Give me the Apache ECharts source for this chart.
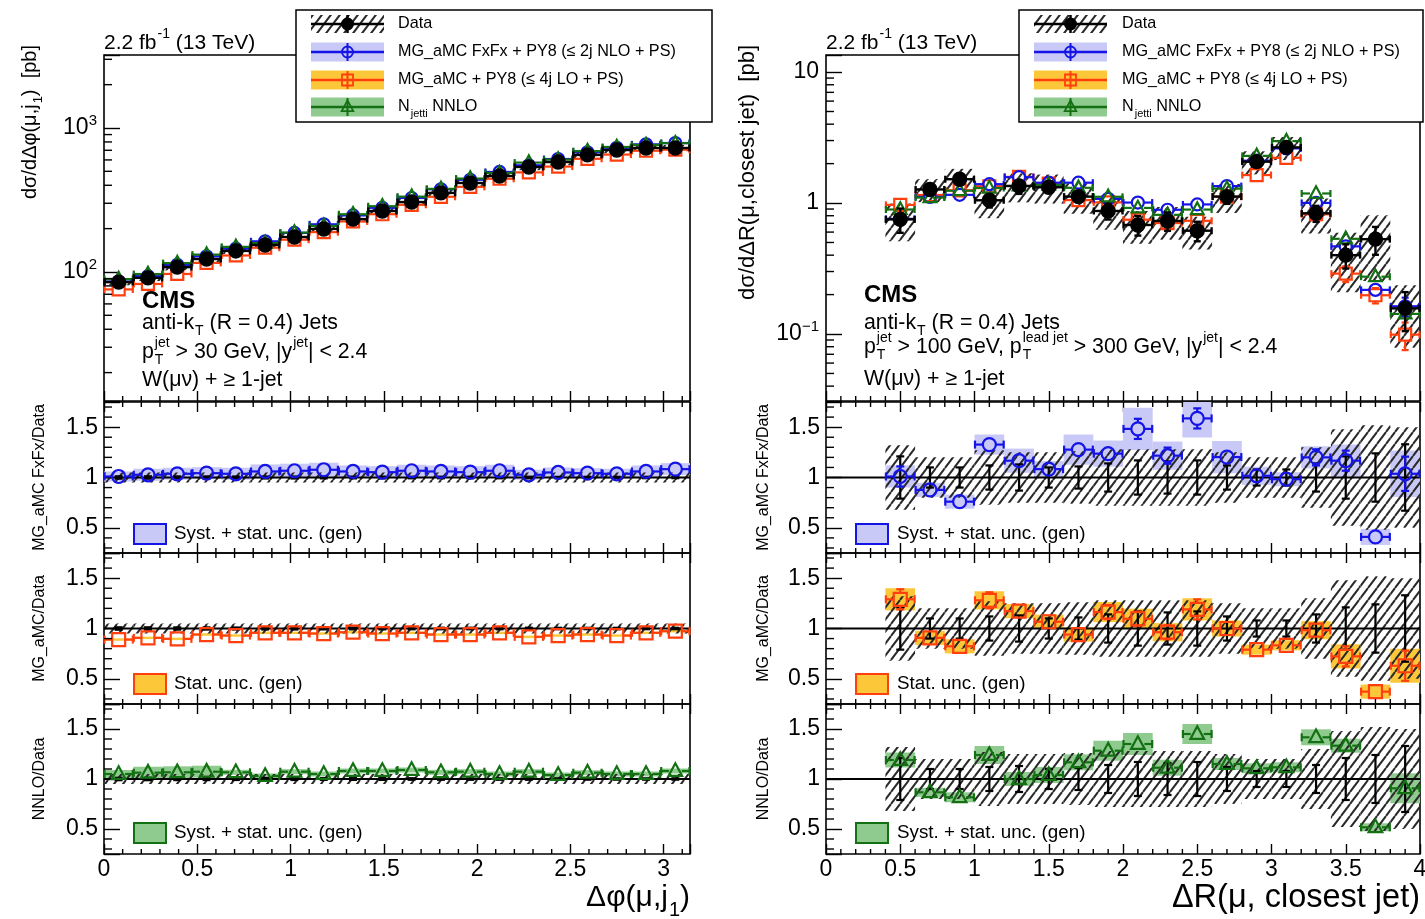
<!DOCTYPE html>
<html>
<head>
<meta charset="utf-8">
<script src="https://cdn.jsdelivr.net/npm/echarts@6/dist/echarts.min.js"></script>
<style>
  html, body { margin: 0; padding: 0; background: #fff; }
  #chart { width: 1425px; height: 919px; }
</style>
</head>
<body>
<div id="chart"></div>
<script>
const FONT = '"Liberation Sans", Arial, Helvetica, sans-serif';

// ---------------- Δφ(μ, j1): 20 equal-width bins on [0, π] ----------------
const dphiNBins = 20;
const dphiEdges = Array.from({ length: dphiNBins + 1 }, (_, i) => (i * Math.PI) / dphiNBins);
const dphiData      = [85, 91, 108, 123, 140, 154, 175, 199, 233, 265, 306, 354, 415, 464, 536, 580, 650, 703, 726, 726];
const dphiDataStat  = [0.012, 0.012, 0.011, 0.011, 0.010, 0.010, 0.010, 0.009, 0.009, 0.009, 0.008, 0.008, 0.008, 0.008, 0.008, 0.007, 0.007, 0.007, 0.007, 0.007];
const dphiDataSyst  = [0.05, 0.05, 0.05, 0.05, 0.05, 0.05, 0.05, 0.05, 0.05, 0.05, 0.05, 0.05, 0.05, 0.05, 0.05, 0.05, 0.05, 0.05, 0.05, 0.05];
const dphiFxFxRatio = [1.01, 1.027, 1.037, 1.043, 1.037, 1.06, 1.067, 1.077, 1.06, 1.053, 1.067, 1.06, 1.053, 1.067, 1.027, 1.05, 1.043, 1.037, 1.06, 1.083];
const dphiFxFxStat  = [0.01, 0.01, 0.01, 0.01, 0.01, 0.01, 0.01, 0.01, 0.01, 0.01, 0.01, 0.01, 0.01, 0.01, 0.01, 0.01, 0.01, 0.01, 0.01, 0.01];
const dphiFxFxUnc   = [0.05, 0.06, 0.06, 0.06, 0.06, 0.07, 0.07, 0.07, 0.06, 0.06, 0.06, 0.06, 0.06, 0.06, 0.05, 0.05, 0.05, 0.05, 0.06, 0.06];
const dphiMGRatio   = [0.89, 0.907, 0.897, 0.94, 0.93, 0.957, 0.957, 0.95, 0.963, 0.95, 0.957, 0.94, 0.94, 0.957, 0.917, 0.93, 0.94, 0.93, 0.957, 0.973];
const dphiMGStat    = [0.01, 0.01, 0.01, 0.01, 0.01, 0.01, 0.01, 0.01, 0.01, 0.01, 0.01, 0.01, 0.01, 0.01, 0.01, 0.01, 0.01, 0.01, 0.01, 0.01];
const dphiMGUnc     = [0.012, 0.012, 0.012, 0.012, 0.012, 0.012, 0.012, 0.012, 0.012, 0.012, 0.012, 0.012, 0.012, 0.012, 0.012, 0.012, 0.012, 0.012, 0.012, 0.012];
const dphiNNLORatio = [1.05, 1.063, 1.067, 1.073, 1.067, 1.03, 1.073, 1.05, 1.08, 1.08, 1.09, 1.067, 1.073, 1.05, 1.073, 1.04, 1.063, 1.05, 1.05, 1.08];
const dphiNNLOStat  = [0.005, 0.005, 0.005, 0.005, 0.005, 0.005, 0.005, 0.005, 0.005, 0.005, 0.005, 0.005, 0.005, 0.005, 0.005, 0.005, 0.005, 0.005, 0.005, 0.005];
const dphiNNLOUnc   = [0.04, 0.06, 0.06, 0.06, 0.025, 0.025, 0.025, 0.025, 0.025, 0.025, 0.025, 0.025, 0.025, 0.025, 0.025, 0.025, 0.025, 0.025, 0.025, 0.025];

// ---------------- ΔR(μ, closest jet) ----------------
const drEdges      = [0.4, 0.6, 0.8, 1.0, 1.2, 1.4, 1.6, 1.8, 2.0, 2.2, 2.4, 2.6, 2.8, 3.0, 3.2, 3.4, 3.6, 3.8, 4.0];
const drData       = [0.75, 1.27, 1.52, 1.05, 1.35, 1.32, 1.12, 0.87, 0.68, 0.73, 0.615, 1.12, 2.07, 2.66, 0.835, 0.40, 0.53, 0.157];
const drDataStat   = [0.21, 0.10, 0.10, 0.12, 0.13, 0.10, 0.11, 0.14, 0.17, 0.16, 0.17, 0.12, 0.08, 0.08, 0.14, 0.21, 0.24, 0.33];
const drDataSyst   = [0.32, 0.20, 0.20, 0.27, 0.25, 0.25, 0.26, 0.28, 0.28, 0.28, 0.28, 0.25, 0.20, 0.20, 0.30, 0.48, 0.52, 0.50];
const drFxFxRatio  = [1.01, 0.877, 0.76, 1.327, 1.167, 1.083, 1.277, 1.237, 1.483, 1.217, 1.587, 1.203, 1.017, 0.983, 1.20, 1.167, 0.41, 1.037];
const drFxFxStat   = [0.10, 0.04, 0.03, 0.06, 0.06, 0.05, 0.06, 0.06, 0.10, 0.08, 0.10, 0.06, 0.04, 0.04, 0.08, 0.10, 0.03, 0.17];
const drFxFxUnc    = [0.11, 0.07, 0.07, 0.10, 0.12, 0.08, 0.15, 0.13, 0.21, 0.14, 0.19, 0.16, 0.09, 0.07, 0.11, 0.16, 0.08, 0.23];
const drMGRatio    = [1.29, 0.907, 0.823, 1.28, 1.173, 1.067, 0.94, 1.163, 1.097, 0.963, 1.19, 1.0, 0.79, 0.833, 0.983, 0.723, 0.373, 0.63];
const drMGStat     = [0.10, 0.04, 0.04, 0.08, 0.05, 0.05, 0.05, 0.07, 0.07, 0.07, 0.10, 0.05, 0.03, 0.03, 0.06, 0.10, 0.05, 0.15];
const drMGUnc      = [0.11, 0.07, 0.07, 0.09, 0.07, 0.07, 0.07, 0.10, 0.10, 0.09, 0.11, 0.08, 0.05, 0.05, 0.09, 0.12, 0.07, 0.17];
const drNNLORatio  = [1.19, 0.867, 0.817, 1.24, 1.0, 1.04, 1.167, 1.283, 1.35, 1.113, 1.45, 1.15, 1.107, 1.117, 1.417, 1.333, 0.517, 0.907];
const drNNLOStat   = [0.02, 0.01, 0.01, 0.02, 0.02, 0.02, 0.02, 0.02, 0.02, 0.02, 0.02, 0.01, 0.01, 0.01, 0.02, 0.02, 0.01, 0.04];
const drNNLOUnc    = [0.075, 0.045, 0.05, 0.09, 0.07, 0.08, 0.08, 0.10, 0.11, 0.08, 0.10, 0.06, 0.05, 0.05, 0.08, 0.07, 0.04, 0.15];

// ---------------- tick labels ----------------
const dphiTickLabels  = [0, 0.5, 1, 1.5, 2, 2.5, 3];
const drTickLabels    = [0, 0.5, 1, 1.5, 2, 2.5, 3, 3.5, 4];
const ratioTickLabels = [0.5, 1, 1.5];

// ---------------- text ----------------
const lumiText = [{ t: '2.2 fb', sup: '-1' }, { t: ' (13 TeV)' }];
const legendTexts = ['Data', 'MG_aMC FxFx + PY8 (\u2264 2j NLO + PS)', 'MG_aMC + PY8 (\u2264 4j LO + PS)'];
const ratioTitles = ['MG_aMC FxFx/Data', 'MG_aMC/Data', 'NNLO/Data'];
const ratioLegendTexts = ['Syst. + stat. unc. (gen)', 'Stat. unc. (gen)', 'Syst. + stat. unc. (gen)'];

// ---------------- styles ----------------
const GEN = {
  fxfx: { line: '#1414e6', band: '#c9c9f7', marker: 'circle' },
  mg:   { line: '#ff3f0d', band: '#fdc73a', marker: 'square' },
  nnlo: { line: '#137013', band: '#8fcb8f', marker: 'triangle' }
};
const RATIO_GENS = ['fxfx', 'mg', 'nnlo'];

function makeHatch() {
  const w = 9, h = 12;
  const cv = document.createElement('canvas');
  cv.width = w; cv.height = h;
  const g = cv.getContext('2d');
  g.strokeStyle = '#2a2a2a';
  g.lineWidth = 2.0;
  g.beginPath();
  for (const o of [-w, 0, w]) { g.moveTo(o, h); g.lineTo(o + w, 0); }
  g.stroke();
  return cv;
}
const HATCH = { type: 'pattern', image: makeHatch(), repeat: 'repeat' };

// ---------------- layout ----------------
const COLS = [{ left: 104, width: 586 }, { left: 826, width: 594 }];
const ROWS = [{ top: 55, height: 346 }, { top: 402, height: 151 }, { top: 553, height: 151 }, { top: 704, height: 150 }];

const columns = [
  {
    edges: dphiEdges, xMax: Math.PI, xLabels: dphiTickLabels,
    yMin: 12.7, yMax: 3213, data: dphiData, stat: dphiDataStat, syst: dphiDataSyst,
    gens: {
      fxfx: [dphiFxFxRatio, dphiFxFxStat, dphiFxFxUnc],
      mg:   [dphiMGRatio, dphiMGStat, dphiMGUnc],
      nnlo: [dphiNNLORatio, dphiNNLOStat, dphiNNLOUnc]
    }
  },
  {
    edges: drEdges, xMax: 4, xLabels: drTickLabels,
    yMin: 0.0308, yMax: 13.5, data: drData, stat: drDataStat, syst: drDataSyst,
    gens: {
      fxfx: [drFxFxRatio, drFxFxStat, drFxFxUnc],
      mg:   [drMGRatio, drMGStat, drMGUnc],
      nnlo: [drNNLORatio, drNNLOStat, drNNLOUnc]
    }
  }
];

// ---------------- drawing helpers ----------------
function markerEl(kind, cx, cy, r, color, filled, lw) {
  const style = { stroke: color, fill: filled ? color : 'none', lineWidth: lw };
  if (kind === 'circle') return { type: 'circle', shape: { cx, cy, r }, style };
  if (kind === 'square') return { type: 'rect', shape: { x: cx - r, y: cy - r, width: 2 * r, height: 2 * r }, style };
  return { type: 'polygon', shape: { points: [[cx, cy - r * 1.2], [cx - r * 1.05, cy + r * 0.75], [cx + r * 1.05, cy + r * 0.75]] }, style };
}
function lineEl(x1, y1, x2, y2, color, lw) {
  return { type: 'line', shape: { x1, y1, x2, y2 }, style: { stroke: color, lineWidth: lw } };
}
function withZ(el, z) {
  el.z = z;
  if (el.children) el.children.forEach(k => withZ(k, z));
  return el;
}

// rows: [lo, hi, yLow, yHigh]
function bandRenderer(fill) {
  return function (params, api) {
    const a = api.coord([api.value(0), api.value(3)]);
    const b = api.coord([api.value(1), api.value(2)]);
    const cs = params.coordSys;
    const rect = echarts.graphic.clipRectByRect(
      { x: a[0], y: a[1], width: b[0] - a[0], height: b[1] - a[1] },
      { x: cs.x, y: cs.y, width: cs.width, height: cs.height });
    if (!rect) return null;
    return { type: 'rect', shape: rect, style: { fill: fill, stroke: null } };
  };
}

// rows: [lo, hi, y, yLow, yHigh]
function pointRenderer(st) {
  return function (params, api) {
    const lo = api.value(0), hi = api.value(1), y = api.value(2);
    const xc = (lo + hi) / 2;
    const c = api.coord([xc, y]);
    const pl = api.coord([lo, y]), ph = api.coord([hi, y]);
    const pu = api.coord([xc, api.value(4)]);
    const pd = api.coord([xc, api.value(3)]);
    const r = st.r, cap = st.cap, col = st.color, lw = st.lw;
    const kids = [];
    if (st.hbar) {
      kids.push(lineEl(pl[0], c[1], c[0] - r, c[1], col, lw));
      kids.push(lineEl(c[0] + r, c[1], ph[0], c[1], col, lw));
      kids.push(lineEl(pl[0] + 0.5, c[1] - cap, pl[0] + 0.5, c[1] + cap, col, lw));
      kids.push(lineEl(ph[0] - 0.5, c[1] - cap, ph[0] - 0.5, c[1] + cap, col, lw));
    }
    if (c[1] - pu[1] > r + 0.5) {
      kids.push(lineEl(c[0], c[1] - r, c[0], pu[1], col, lw));
      kids.push(lineEl(c[0] - cap, pu[1], c[0] + cap, pu[1], col, lw));
    }
    if (pd[1] - c[1] > r + 0.5) {
      kids.push(lineEl(c[0], c[1] + r, c[0], pd[1], col, lw));
      kids.push(lineEl(c[0] - cap, pd[1], c[0] + cap, pd[1], col, lw));
    }
    if (st.marker) kids.push(markerEl(st.marker, c[0], c[1], r, col, st.filled, lw));
    return { type: 'group', children: kids };
  };
}

// rows: [xLeft, xRight] -> horizontal line at ratio 1
function unityRenderer(params, api) {
  const a = api.coord([api.value(0), 1]);
  const b = api.coord([api.value(1), 1]);
  return lineEl(a[0], a[1], b[0], b[1], '#000', 2.2);
}

// rows: [side, value]; side 0 = left y ticks, 1 = bottom x ticks, 2 = top x ticks
function minorTickRenderer(xMin, yRef) {
  return function (params, api) {
    const side = api.value(0), v = api.value(1);
    const cs = params.coordSys;
    if (side === 0) {
      const p = api.coord([xMin, v]);
      return lineEl(cs.x, p[1], cs.x + 8, p[1], '#000', 1.4);
    }
    const p = api.coord([v, yRef]);
    if (side === 1) return lineEl(p[0], cs.y + cs.height, p[0], cs.y + cs.height - 5, '#000', 1.4);
    return lineEl(p[0], cs.y, p[0], cs.y + 5, '#000', 1.4);
  };
}

function logMinorValues(min, max) {
  const out = [];
  for (let e = Math.floor(Math.log10(min)); e <= Math.ceil(Math.log10(max)); e++) {
    for (let k = 2; k <= 9; k++) {
      const v = k * Math.pow(10, e);
      if (v > min && v < max) out.push(v);
    }
  }
  return out;
}
function linearMinorValues(min, max, step, major) {
  const out = [];
  for (let i = Math.ceil(min / step); i * step < max - 1e-9; i++) {
    const v = +(i * step).toFixed(6);
    if (v <= min + 1e-9) continue;
    if (Math.abs(v / major - Math.round(v / major)) < 1e-6) continue;
    out.push(v);
  }
  return out;
}

// ---------------- text helpers ----------------
const measureCtx = document.createElement('canvas').getContext('2d');
function textWidth(s, size, weight) {
  measureCtx.font = (weight || 'normal') + ' ' + size + 'px ' + FONT;
  return measureCtx.measureText(s).width;
}
function mathText(x, y, parts, size, opt) {
  opt = opt || {};
  const weight = opt.weight || 'normal';
  const small = Math.round(size * 0.66);
  const kids = [];
  let cx = 0;
  const el = (px, py, t, s) => ({
    type: 'text', x: px, y: py,
    style: { text: t, fontSize: s, fontFamily: FONT, fontWeight: weight, fill: '#000', align: 'left', verticalAlign: 'middle' }
  });
  for (const p of parts) {
    if (p.t) { kids.push(el(cx, 0, p.t, size)); cx += textWidth(p.t, size, weight); }
    let w = 0;
    if (p.sup) { kids.push(el(cx + 1, -size * 0.42, p.sup, small)); w = Math.max(w, textWidth(p.sup, small, weight) + 1); }
    if (p.sub) { kids.push(el(cx + 1, size * 0.40, p.sub, small)); w = Math.max(w, textWidth(p.sub, small, weight) + 1); }
    cx += w;
  }
  let off = 0;
  if (opt.align === 'right') off = -cx;
  else if (opt.align === 'center') off = -cx / 2;
  kids.forEach(k => { k.x += off; });
  return withZ({ type: 'group', x: x, y: y, rotation: opt.rotation || 0, children: kids }, 100);
}

// ---------------- build option ----------------
const grids = [], xAxes = [], yAxes = [], series = [];
const topAxes = [];

function labelFromList(list) {
  return function (v) {
    const hit = list.find(t => Math.abs(t - v) < 1e-9);
    return hit === undefined ? '' : String(hit);
  };
}
function logLabel(v) {
  const l = Math.log10(v);
  const n = Math.round(l);
  if (Math.abs(l - n) > 1e-6) return '';
  if (n === 0) return '1';
  if (n === 1) return '10';
  return '10{sup|' + (n < 0 ? '\u2212' + (-n) : n) + '}';
}

columns.forEach((col, c) => {
  for (let r = 0; r < 4; r++) {
    const g = c * 4 + r;
    grids.push({
      left: COLS[c].left, width: COLS[c].width, top: ROWS[r].top, height: ROWS[r].height,
      show: true, borderColor: '#000', borderWidth: 1.6, backgroundColor: 'transparent',
      containLabel: false, outerBoundsMode: 'none'
    });
    xAxes.push({
      type: 'value', gridIndex: g, position: 'bottom', min: 0, max: col.xMax, interval: 0.5,
      axisLine: { show: false }, splitLine: { show: false },
      axisTick: { show: true, inside: true, length: 10, lineStyle: { color: '#000', width: 1.4 } },
      axisLabel: {
        show: r === 3, margin: 4, fontSize: 23, fontFamily: FONT, color: '#000',
        formatter: labelFromList(col.xLabels)
      }
    });
    if (r > 0) {
      topAxes.push({
        type: 'value', gridIndex: g, position: 'top', min: 0, max: col.xMax, interval: 0.5,
        axisLine: { show: false }, splitLine: { show: false }, axisLabel: { show: false },
        axisTick: { show: true, inside: true, length: 10, lineStyle: { color: '#000', width: 1.4 } }
      });
    }
    if (r === 0) {
      yAxes.push({
        type: 'log', logBase: 10, gridIndex: g, min: col.yMin, max: col.yMax,
        axisLine: { show: false }, splitLine: { show: false },
        axisTick: { show: true, inside: true, length: 16, lineStyle: { color: '#000', width: 1.4 } },
        axisLabel: {
          margin: 7, fontSize: 23, lineHeight: 30, fontFamily: FONT, color: '#000',
          formatter: logLabel,
          rich: { sup: { fontSize: 15, lineHeight: 14, verticalAlign: 'top', fontFamily: FONT, color: '#000' } }
        }
      });
    } else {
      yAxes.push({
        type: 'value', gridIndex: g, min: 0.25, max: 1.75, splitNumber: 3,
        axisLine: { show: false }, splitLine: { show: false },
        axisTick: { show: true, inside: true, length: 16, lineStyle: { color: '#000', width: 1.4 } },
        axisLabel: { margin: 6, fontSize: 23, fontFamily: FONT, color: '#000', formatter: labelFromList(ratioTickLabels) }
      });
    }
  }
});
xAxes.push(...topAxes);

function custom(g, rows, renderItem, z) {
  series.push({
    type: 'custom', coordinateSystem: 'cartesian2d', xAxisIndex: g, yAxisIndex: g,
    data: rows, renderItem: renderItem, z: z, silent: true, animation: false
  });
}

columns.forEach((col, c) => {
  const E = col.edges;
  const lo = i => E[i], hi = i => E[i + 1];
  const g0 = c * 4;
  const xMinor = linearMinorValues(0, col.xMax, 0.1, 0.5);

  // main panel: data hatch, generator predictions, data points
  custom(g0, col.data.map((v, i) => [lo(i), hi(i), v * (1 - col.syst[i]), v * (1 + col.syst[i])]), bandRenderer(HATCH), 2);
  ['mg', 'fxfx', 'nnlo'].forEach(gk => {
    const [ratio, stat] = col.gens[gk];
    const rows = col.data.map((v, i) => [lo(i), hi(i), v * ratio[i], v * (ratio[i] - stat[i]), v * (ratio[i] + stat[i])]);
    custom(g0, rows, pointRenderer({ color: GEN[gk].line, marker: GEN[gk].marker, r: 6, lw: 2.2, cap: 3.5, hbar: true }), 3);
  });
  custom(g0, col.data.map((v, i) => [lo(i), hi(i), v, v * (1 - col.stat[i]), v * (1 + col.stat[i])]),
    pointRenderer({ color: '#000', marker: 'circle', filled: true, r: 6.5, lw: 2.4, cap: 3.5, hbar: true }), 4);
  const mainTicks = logMinorValues(col.yMin, col.yMax).map(v => [0, v]).concat(xMinor.map(v => [1, v]));
  custom(g0, mainTicks, minorTickRenderer(0, col.yMin), 7);

  // ratio panels
  RATIO_GENS.forEach((gk, k) => {
    const g = g0 + k + 1;
    const [ratio, stat, unc] = col.gens[gk];
    custom(g, ratio.map((v, i) => [lo(i), hi(i), v - unc[i], v + unc[i]]), bandRenderer(GEN[gk].band), 2);
    custom(g, col.syst.map((s, i) => [lo(i), hi(i), 1 - s, 1 + s]), bandRenderer(HATCH), 3);
    custom(g, [[0, col.xMax]], unityRenderer, 4);
    custom(g, col.stat.map((s, i) => [lo(i), hi(i), 1, 1 - s, 1 + s]),
      pointRenderer({ color: '#000', marker: null, r: 0, lw: 2.2, cap: 4, hbar: false }), 5);
    custom(g, ratio.map((v, i) => [lo(i), hi(i), v, v - stat[i], v + stat[i]]),
      pointRenderer({ color: GEN[gk].line, marker: GEN[gk].marker, r: 6.5, lw: 2.2, cap: 4, hbar: true }), 6);
    const ratioMinor = linearMinorValues(0.25, 1.75, 0.1, 0.5);
    const ticks = ratioMinor.map(v => [0, v]).concat(xMinor.map(v => [1, v]), xMinor.map(v => [2, v]));
    custom(g, ticks, minorTickRenderer(0, 1), 7);
  });
});

// ---------------- annotations ----------------
const graphics = [];

function legendBox(bx, w, textX) {
  const rows = [24, 52, 80, 107];
  const sx = bx + 15, sw = 73, cx = sx + sw / 2;
  graphics.push(withZ({ type: 'rect', shape: { x: bx, y: 10, width: w, height: 112 }, style: { fill: '#fff', stroke: '#000', lineWidth: 1.5 } }, 90));
  const grp = [];
  grp.push({ type: 'rect', shape: { x: sx, y: rows[0] - 9, width: sw, height: 18 }, style: { fill: HATCH, stroke: null } });
  grp.push(lineEl(sx, rows[0], sx + sw, rows[0], '#000', 2.5));
  grp.push(lineEl(cx, rows[0] - 9, cx, rows[0] + 9, '#000', 2.5));
  grp.push(markerEl('circle', cx, rows[0], 5.5, '#000', true, 2));
  RATIO_GENS.forEach((gk, i) => {
    const y = rows[i + 1], st = GEN[gk];
    grp.push({ type: 'rect', shape: { x: sx, y: y - 9.5, width: sw, height: 19 }, style: { fill: st.band, stroke: null } });
    grp.push(lineEl(sx, y, sx + sw, y, st.line, 2.5));
    grp.push(lineEl(cx, y - 9, cx, y + 9, st.line, 2));
    grp.push(markerEl(st.marker, cx, y, 5.5, st.line, false, 1.8));
  });
  graphics.push(withZ({ type: 'group', children: grp }, 95));
  legendTexts.forEach((t, i) => graphics.push(mathText(textX, rows[i], [{ t: t }], 16.2)));
  graphics.push(mathText(textX, rows[3], [{ t: 'N', sub: 'jetti' }, { t: ' NNLO' }], 16.2));
}
legendBox(296, 416, 398);
legendBox(1019, 404, 1122);

function ratioLegends(bx, tx) {
  const ys = [534, 684, 833];
  RATIO_GENS.forEach((gk, i) => {
    graphics.push(withZ({ type: 'rect', shape: { x: bx, y: ys[i] - 10, width: 32, height: 20 }, style: { fill: GEN[gk].band, stroke: GEN[gk].line, lineWidth: 2 } }, 90));
    graphics.push(mathText(tx, ys[i], [{ t: ratioLegendTexts[i] }], 18.8));
  });
}
ratioLegends(134, 174);
ratioLegends(856, 897);

// header and selection text
graphics.push(mathText(104, 43, lumiText, 21));
graphics.push(mathText(826, 43, lumiText, 21));

graphics.push(mathText(142, 301, [{ t: 'CMS' }], 24, { weight: 'bold' }));
graphics.push(mathText(142, 323, [{ t: 'anti-k', sub: 'T' }, { t: ' (R = 0.4) Jets' }], 21.3));
graphics.push(mathText(142, 352, [{ t: 'p', sup: 'jet', sub: 'T' }, { t: ' > 30 GeV, |y', sup: 'jet' }, { t: '| < 2.4' }], 21.3));
graphics.push(mathText(142, 380, [{ t: 'W(\u03bc\u03bd) + \u2265 1-jet' }], 21.3));

graphics.push(mathText(864, 295, [{ t: 'CMS' }], 24, { weight: 'bold' }));
graphics.push(mathText(864, 323, [{ t: 'anti-k', sub: 'T' }, { t: ' (R = 0.4) Jets' }], 21.3));
graphics.push(mathText(864, 347, [{ t: 'p', sup: 'jet', sub: 'T' }, { t: ' > 100 GeV, p', sup: 'lead jet', sub: 'T' }, { t: ' > 300 GeV, |y', sup: 'jet' }, { t: '| < 2.4' }], 21.3));
graphics.push(mathText(864, 379, [{ t: 'W(\u03bc\u03bd) + \u2265 1-jet' }], 21.3));

// axis titles
graphics.push(mathText(30, 45, [{ t: 'd\u03c3/d\u0394\u03c6(\u03bc,j', sub: '1' }, { t: ')  [pb]' }], 20, { align: 'right', rotation: Math.PI / 2 }));
graphics.push(mathText(748, 45, [{ t: 'd\u03c3/d\u0394R(\u03bc,closest jet)  [pb]' }], 22, { align: 'right', rotation: Math.PI / 2 }));
ratioTitles.forEach((t, i) => {
  const yc = ROWS[i + 1].top + ROWS[i + 1].height / 2;
  graphics.push(mathText(40, yc, [{ t: t }], 16, { align: 'center', rotation: Math.PI / 2 }));
  graphics.push(mathText(764, yc, [{ t: t }], 16, { align: 'center', rotation: Math.PI / 2 }));
});
graphics.push(mathText(690, 898, [{ t: '\u0394\u03c6(\u03bc,j', sub: '1' }, { t: ')' }], 30, { align: 'right' }));
graphics.push(mathText(1420, 898, [{ t: '\u0394R(\u03bc, closest jet)' }], 32.5, { align: 'right' }));

const chart = echarts.init(document.getElementById('chart'), null, { renderer: 'canvas' });
chart.setOption({
  animation: false,
  backgroundColor: '#fff',
  textStyle: { fontFamily: FONT },
  grid: grids,
  xAxis: xAxes,
  yAxis: yAxes,
  series: series,
  graphic: graphics
});
</script>
</body>
</html>
